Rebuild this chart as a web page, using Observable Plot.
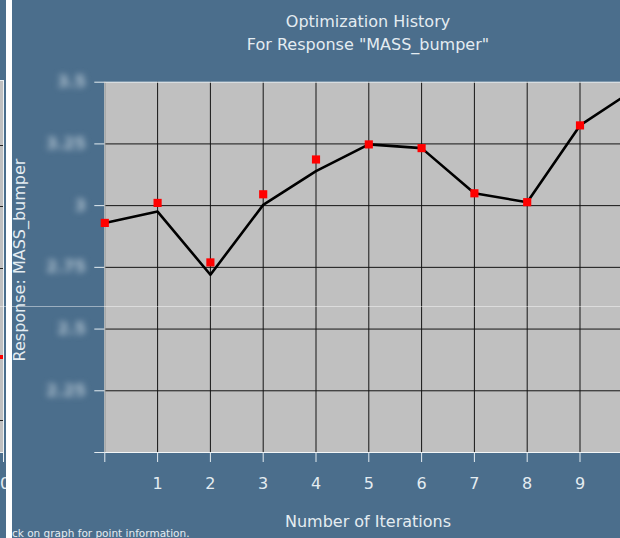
<!DOCTYPE html>
<html><head><meta charset="utf-8">
<script src="https://cdn.jsdelivr.net/npm/d3@7"></script>
<script src="https://cdn.jsdelivr.net/npm/@observablehq/plot@0.6"></script>
<style>
html,body{margin:0;padding:0;}
body{width:620px;height:538px;overflow:hidden;position:relative;background:#4b6e8c;font-family:"DejaVu Sans",sans-serif;color:#e4ecf1;}
#chart{position:absolute;left:12px;top:0;}
.abs{position:absolute;}
.t16{font-size:16px;line-height:16px;white-space:nowrap;}
</style></head><body>
<!-- left neighbour panel (cropped) -->
<div class="abs" style="left:0;top:80px;width:3px;height:372px;background:#c0c0c0;"></div>
<div class="abs" style="left:3px;top:80px;width:1px;height:382px;background:#eef2f4;"></div>
<div class="abs" style="left:0;top:80px;width:3px;height:1px;background:#eef2f4;"></div>
<div class="abs" style="left:0;top:145px;width:3px;height:1px;background:#222;"></div>
<div class="abs" style="left:0;top:206px;width:3px;height:1px;background:#222;"></div>
<div class="abs" style="left:0;top:268px;width:3px;height:1px;background:#222;"></div>
<div class="abs" style="left:0;top:420px;width:3px;height:1px;background:#222;"></div>
<div class="abs" style="left:0;top:355px;width:3px;height:4px;background:#ff0000;"></div>
<div class="abs" style="left:0;top:452px;width:4px;height:1px;background:#eef2f4;"></div>
<div class="abs t16" style="left:0;top:476px;width:6px;height:18px;overflow:hidden;">0</div>
<div class="abs" style="left:6px;top:0;width:6px;height:538px;background:#ffffff;"></div>

<div id="chart"></div>

<div class="abs t16" style="left:104px;width:528px;top:14px;text-align:center;">Optimization History</div>
<div class="abs t16" style="left:104px;width:528px;top:36.5px;text-align:center;">For Response "MASS_bumper"</div>
<div class="abs t16" style="left:104px;width:528px;top:513.5px;text-align:center;">Number of Iterations</div>
<div class="abs t16" style="left:-130.5px;width:300px;height:16px;top:252px;text-align:center;transform:rotate(-90deg);">Response: MASS_bumper</div>
<div class="abs" style="left:12px;top:527px;font-size:10.5px;line-height:12px;white-space:nowrap;">ck on graph for point information.</div>
<div class="abs" style="left:0;top:306px;width:620px;height:1px;background:rgba(255,255,255,0.45);"></div>

<script>
const iterations = [0, 1, 2, 3, 4, 5, 6, 7, 8, 9, 10];
const lineValues = [2.930, 2.976, 2.720, 3.003, 3.140, 3.248, 3.233, 3.050, 3.014, 3.325, 3.466];
const markerIterations = [0, 1, 2, 3, 4, 5, 6, 7, 8, 9];
const markerValues = [2.930, 3.011, 2.770, 3.046, 3.187, 3.248, 3.233, 3.050, 3.014, 3.325];
const xTicks = [0, 1, 2, 3, 4, 5, 6, 7, 8, 9];
const xTickLabels = ["", "1", "2", "3", "4", "5", "6", "7", "8", "9"];
const yTicks = [2, 2.25, 2.5, 2.75, 3, 3.25, 3.5];
const yTickLabels = ["", "2.25", "2.5", "2.75", "3", "3.25", "3.5"];

const lineData = iterations.map((x, i) => ({x, y: lineValues[i]}));
const markerData = markerIterations.map((x, i) => ({x, y: markerValues[i]}));
const xLab = new Map(xTicks.map((t, i) => [t, xTickLabels[i]]));
const yLab = new Map(yTicks.map((t, i) => [t, yTickLabels[i]]));

const chart = Plot.plot({
  width: 608, height: 538,
  marginLeft: 92.3, marginRight: 0, marginTop: 81.7, marginBottom: 86,
  style: {background: "transparent", color: "#e4ecf1", fontFamily: "DejaVu Sans", fontSize: "16px", overflow: "hidden"},
  x: {domain: [0, 9.767], axis: null},
  y: {domain: [2, 3.5], axis: null},
  marks: [
    Plot.frame({fill: "#c0c0c0", stroke: null}),
    Plot.ruleX(xTicks, {stroke: "#141414", strokeWidth: 1}),
    Plot.ruleY(yTicks.slice(1, -1), {stroke: "#141414", strokeWidth: 1}),
    Plot.ruleY([3.5], {stroke: "#eef2f4"}),
    Plot.ruleX([0], {stroke: "#e6eaec"}),
    Plot.ruleY([2], {stroke: "#f4f6f7"}),
    Plot.axisX(xTicks, {tickSize: 10, tickPadding: 15, stroke: "#e4ecf1", fill: "#e4ecf1", fontSize: 16, tickFormat: d => xLab.get(d), label: null}),
    Plot.axisY(yTicks, {tickSize: 10, tickPadding: 9, stroke: "#e4ecf1", fill: "#b4c5d2", fontSize: 16, fontWeight: "bold", tickFormat: d => yLab.get(d), label: null}),
    Plot.line(lineData, {x: "x", y: "y", stroke: "#000", strokeWidth: 2.6, clip: true}),
    Plot.dot(markerData, {x: "x", y: "y", symbol: "square", r: 4.6, fill: "#ff0000", stroke: null})
  ]
});
document.getElementById("chart").appendChild(chart);
d3.select(chart).selectAll('g[aria-label="y-axis tick label"] text').style("filter", "blur(3.4px)");
</script>
</body></html>
